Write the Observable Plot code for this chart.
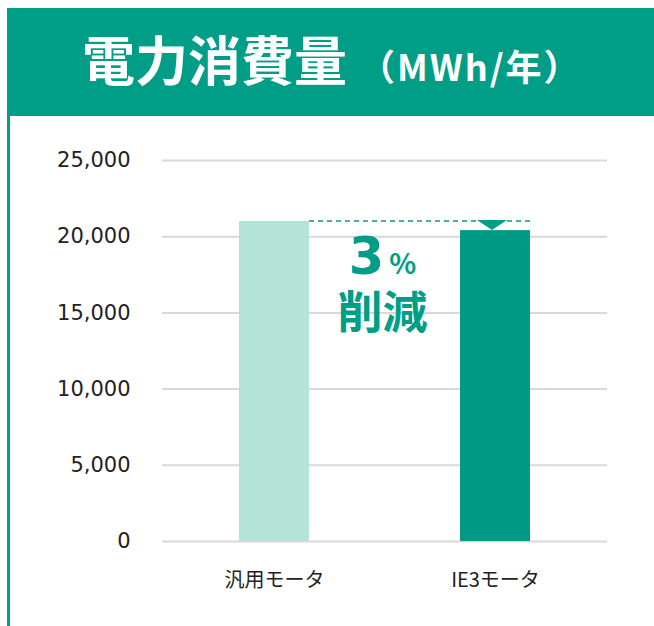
<!DOCTYPE html>
<html>
<head>
<meta charset="utf-8">
<script src="https://cdn.jsdelivr.net/npm/d3@7"></script>
<script src="https://cdn.jsdelivr.net/npm/@observablehq/plot@0.6"></script>
<style>
  html, body { margin: 0; padding: 0; background: #fff; }
  #wrap { position: relative; width: 654px; height: 626px; overflow: hidden; background: #fff; }
  #header { position: absolute; left: 7px; top: 8px; width: 647px; height: 108px; background: #009E86; }
  #title { position: absolute; left: 75px; top: 24px; white-space: nowrap; color: #fff;
           font-family: "Noto Sans CJK JP", sans-serif; font-weight: 700; line-height: 1; }
  #title .main { font-size: 53px; }
  #title .unit { font-size: 36px; margin-left: 12px; letter-spacing: 2px; }
  #leftline { position: absolute; left: 7px; top: 116px; width: 2.5px; height: 510px; background: #009E86; }
  #chart { position: absolute; left: 0; top: 116px; }
</style>
</head>
<body>
<div id="wrap">
  <div id="header"><div id="title"><span class="main">電力消費量</span><span class="unit">（MWh/年）</span></div></div>
  <div id="leftline"></div>
  <div id="chart"></div>
</div>
<script>
const categories = ["汎用モータ", "IE3モータ"];
const values = [21000, 20400];
const barColors = ["#B4E3D7", "#009A85"];
const yTicks = [0, 5000, 10000, 15000, 20000, 25000];
const reductionNumber = "3";
const reductionUnit = "%";
const reductionLabel = "削減";

const data = categories.map((c, i) => ({cat: c, value: values[i], color: barColors[i]}));
const teal = "#009E86";

const chart = Plot.plot({
  width: 654,
  height: 510,
  marginTop: 44,
  marginBottom: 85,
  marginLeft: 162,
  marginRight: 47,
  style: {fontFamily: "'Noto Sans CJK JP', sans-serif", fontSize: "20px", color: "#222", background: "transparent"},
  x: {domain: categories, paddingInner: 0.683, paddingOuter: 0.348, label: null},
  y: {domain: [0, 25000], label: null},
  marks: [
    Plot.gridY(yTicks, {stroke: "#d9d9d9", strokeOpacity: 1, strokeWidth: 2}),
    Plot.barY(data, {x: "cat", y: "value", fill: "color"}),
    Plot.axisY(yTicks, {tickSize: 0, tickPadding: 32, tickFormat: d3.format(","), fontSize: 21,
      fontFamily: "'DejaVu Sans', sans-serif", fill: "#222", label: null}),
    Plot.axisX({tickSize: 0, tickPadding: 31, fontSize: 20, fill: "#222", label: null})
  ]
});
document.getElementById("chart").appendChild(chart);

// annotation via the chart's scales
const xs = chart.scale("x");
const ys = chart.scale("y");
const bw = xs.bandwidth;
const x0 = xs.apply(categories[0]);
const x1 = xs.apply(categories[1]);
const yBase = ys.apply(values[0]);
const yNew = ys.apply(values[1]);
const svg = d3.select(chart.tagName.toLowerCase() === "svg" ? chart : chart.querySelector("svg"));
const g = svg.append("g");
g.append("line")
  .attr("x1", x0 + bw).attr("x2", x1 + bw)
  .attr("y1", yBase).attr("y2", yBase)
  .attr("stroke", teal).attr("stroke-width", 1.5).attr("stroke-dasharray", "5,4");
const cx = x1 + bw / 2 - 3;
g.append("path")
  .attr("d", `M${cx - 15},${yBase - 1} L${cx + 15},${yBase - 1} L${cx},${yNew} Z`)
  .attr("fill", teal);
const mid = (x0 + x1 + bw) / 2 - 2;
const t = g.append("text")
  .attr("text-anchor", "middle")
  .attr("fill", teal)
  .attr("font-weight", 700)
  .attr("font-family", "'Noto Sans CJK JP', sans-serif");
t.append("tspan").attr("x", mid).attr("y", yBase + 53)
  .attr("font-size", 51).attr("font-family", "'DejaVu Sans', sans-serif").text(reductionNumber);
t.append("tspan").attr("font-size", 28).attr("dx", 5).text(reductionUnit);
t.append("tspan").attr("x", mid).attr("y", yBase + 108)
  .attr("font-size", 45).text(reductionLabel);
</script>
</body>
</html>
